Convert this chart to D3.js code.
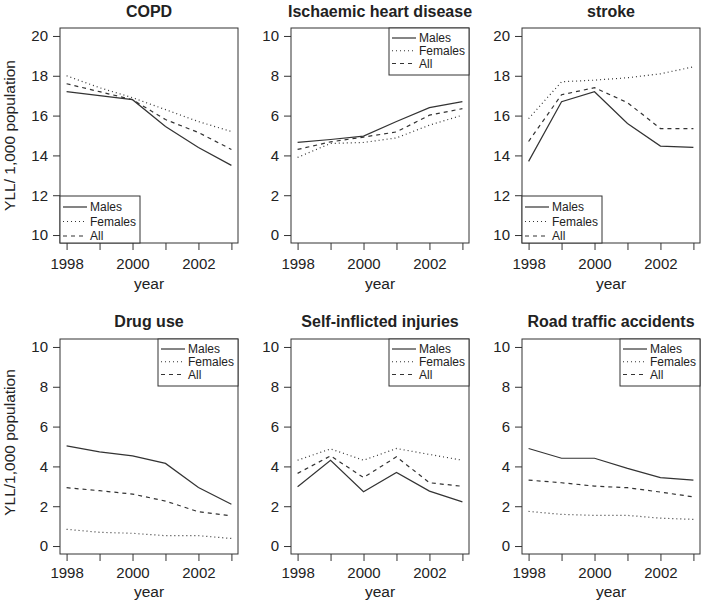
<!DOCTYPE html>
<html>
<head>
<meta charset="utf-8">
<script src="https://cdn.jsdelivr.net/npm/d3@7"></script>
<style>
  html, body { margin: 0; padding: 0; background: #fff; }
  svg { display: block; }
  text { font-family: "Liberation Sans", Arial, Helvetica, sans-serif; fill: #222; }
</style>
</head>
<body>
<svg id="chart" width="701" height="602"></svg>
<script>
// ---------- data ----------
const years = [1998, 1999, 2000, 2001, 2002, 2003];
const xTickLabels = [1998, 2000, 2002];
const seriesNames = ["Males", "Females", "All"];

const copdMales   = [17.2, 17.0, 16.8, 15.45, 14.4, 13.5];
const copdFemales = [18.0, 17.4, 16.9, 16.3, 15.7, 15.2];
const copdAll     = [17.6, 17.2, 16.8, 15.8, 15.15, 14.3];

const ihdMales   = [4.65, 4.8, 4.97, 5.7, 6.4, 6.7];
const ihdFemales = [3.9, 4.6, 4.65, 4.88, 5.52, 6.02];
const ihdAll     = [4.3, 4.68, 4.92, 5.18, 6.02, 6.35];

const strokeMales   = [13.7, 16.7, 17.2, 15.6, 14.47, 14.4];
const strokeFemales = [15.85, 17.7, 17.78, 17.9, 18.1, 18.45];
const strokeAll     = [14.7, 17.05, 17.4, 16.65, 15.35, 15.35];

const drugMales   = [5.03, 4.73, 4.53, 4.15, 2.94, 2.1];
const drugFemales = [0.84, 0.69, 0.64, 0.52, 0.52, 0.38];
const drugAll     = [2.93, 2.78, 2.61, 2.26, 1.72, 1.52];

const selfMales   = [2.98, 4.31, 2.73, 3.7, 2.76, 2.22];
const selfFemales = [4.31, 4.88, 4.31, 4.9, 4.6, 4.31];
const selfAll     = [3.65, 4.53, 3.44, 4.48, 3.18, 3.0];

const roadMales   = [4.9, 4.41, 4.41, 3.9, 3.44, 3.31];
const roadFemales = [1.74, 1.59, 1.54, 1.54, 1.4, 1.34];
const roadAll     = [3.31, 3.18, 3.01, 2.93, 2.71, 2.47];

const titles = ["COPD", "Ischaemic heart disease", "stroke",
                "Drug use", "Self-inflicted injuries", "Road traffic accidents"];
const yDomains = [[10, 20], [0, 10], [10, 20], [0, 10], [0, 10], [0, 10]];
const yTicks = [[10, 12, 14, 16, 18, 20], [0, 2, 4, 6, 8, 10], [10, 12, 14, 16, 18, 20],
                [0, 2, 4, 6, 8, 10], [0, 2, 4, 6, 8, 10], [0, 2, 4, 6, 8, 10]];
const legendPlaces = ["bottomleft", "topright", "bottomleft", "topright", "topright", "topright"];
const yLabels = ["YLL/ 1,000 population", "", "", "YLL/1,000 population", "", ""];
const panelSeries = [
  [copdMales, copdFemales, copdAll],
  [ihdMales, ihdFemales, ihdAll],
  [strokeMales, strokeFemales, strokeAll],
  [drugMales, drugFemales, drugAll],
  [selfMales, selfFemales, selfAll],
  [roadMales, roadFemales, roadAll]
];

// ---------- layout ----------
const dashes = [null, "1,3", "4,4"];
const lineColor = "#333";
const font = '"Liberation Sans", Arial, Helvetica, sans-serif';
const panelLefts = [60, 291, 522];
const panelTops = [28, 339];
const tickPads = [8, 6];
const yearOffsets = [45.5, 43];
const yLabelShift = [0, -4];
const pw = 178, ph = 215;

const svg = d3.select("#chart");

panelSeries.forEach((series, i) => {
  const col = i % 3, row = Math.floor(i / 3);
  const left = panelLefts[col], top = panelTops[row];
  const g = svg.append("g").attr("transform", `translate(${left},${top})`);

  const x = d3.scaleLinear().domain([years[0] - 0.2, years[years.length - 1] + 0.2]).range([0, pw]);
  const [lo, hi] = yDomains[i];
  const pad = (hi - lo) * 0.04;
  const y = d3.scaleLinear().domain([lo - pad, hi + pad]).range([ph, 0]);

  // x axis (ticks every year, labels every other)
  const xAxis = d3.axisBottom(x).tickValues(years).tickSize(7).tickPadding(tickPads[row])
    .tickFormat(d => xTickLabels.includes(d) ? String(d) : "");
  const gx = g.append("g").attr("transform", `translate(0,${ph})`).call(xAxis);
  gx.select(".domain").remove();
  gx.selectAll("line").attr("stroke", lineColor);
  gx.selectAll("text").attr("font-size", 15).attr("fill", "#222").attr("font-family", font);

  const yAxis = d3.axisLeft(y).tickValues(yTicks[i]).tickSize(7).tickPadding(5);
  const gy = g.append("g").call(yAxis);
  gy.select(".domain").remove();
  gy.selectAll("line").attr("stroke", lineColor);
  gy.selectAll("text").attr("font-size", 15).attr("fill", "#222").attr("font-family", font);

  // box
  g.append("rect").attr("x", 0).attr("y", 0).attr("width", pw).attr("height", ph)
    .attr("fill", "none").attr("stroke", lineColor).attr("stroke-width", 1);

  // lines
  const line = d3.line().x((d, j) => x(years[j])).y(d => y(d));
  series.forEach((vals, k) => {
    g.append("path").datum(vals).attr("d", line)
      .attr("fill", "none").attr("stroke", lineColor).attr("stroke-width", 1.2)
      .attr("stroke-dasharray", dashes[k]);
  });

  // title
  g.append("text").attr("x", pw / 2).attr("y", row === 0 ? -11 : -12)
    .attr("text-anchor", "middle").attr("font-size", 16).attr("font-weight", "bold")
    .text(titles[i]);

  // x label
  g.append("text").attr("x", pw / 2).attr("y", ph + yearOffsets[row])
    .attr("text-anchor", "middle").attr("font-size", 15.5).text("year");

  // y label
  if (yLabels[i]) {
    g.append("text")
      .attr("transform", `translate(${-45},${ph / 2 + yLabelShift[row]}) rotate(-90)`)
      .attr("text-anchor", "middle").attr("font-size", 15.5).text(yLabels[i]);
  }

  // legend
  const lw = 80, lh = 47;
  let lx, ly, spacing, first;
  if (legendPlaces[i] === "topright") {
    lx = pw - lw; ly = 0; spacing = 12.75; first = 10;
  } else {
    lx = 0; ly = ph - lh; spacing = 14.5; first = 11;
  }
  const lg = g.append("g").attr("transform", `translate(${lx},${ly})`);
  lg.append("rect").attr("width", lw).attr("height", lh)
    .attr("fill", "#fff").attr("stroke", lineColor).attr("stroke-width", 1);
  seriesNames.forEach((name, k) => {
    const yy = first + k * spacing;
    lg.append("line").attr("x1", 3).attr("x2", 27).attr("y1", yy).attr("y2", yy)
      .attr("stroke", lineColor).attr("stroke-width", 1.2).attr("stroke-dasharray", dashes[k]);
    lg.append("text").attr("x", 30).attr("y", yy).attr("dy", "0.35em")
      .attr("font-size", 12).text(name);
  });
});
</script>
</body>
</html>
